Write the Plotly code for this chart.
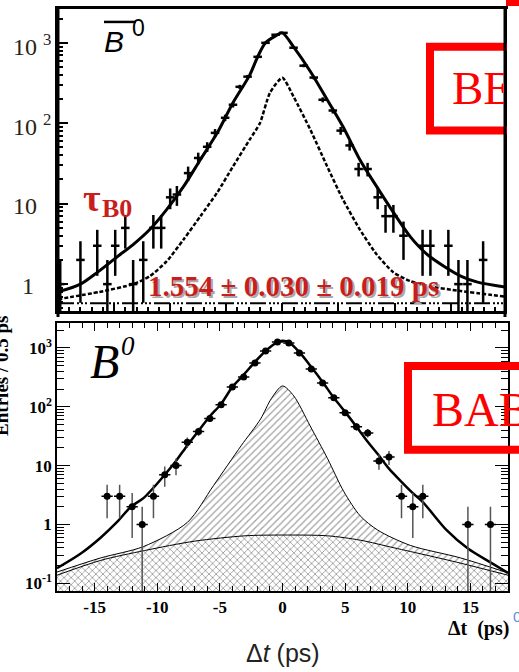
import numpy as np
import plotly.graph_objects as go

W, H = 519, 672

# ---------------- data: top panel (B0-bar, Belle) ----------------
top_t = [-19.8, -18.0, -16.5, -15.6, -14.9, -14.0, -13.3, -12.4, -11.5, -10.8,
         -10.0, -9.4, -8.4, -7.5, -6.7, -6.0, -5.1, -4.4, -3.8, -3.1,
         -2.2, -1.5, -0.6, 0.1, 1.0, 1.9, 2.8, 3.6, 4.5, 5.2,
         6.0, 6.8, 7.6, 8.5, 9.2, 9.9, 10.8, 12.5, 13.2, 14.8,
         15.7, 16.5, 17.9]
top_n = [1, 2, 3, 1, 3, 5, 1, 2, 5, 5,
         12, 13, 24, 37, 51, 76, 117, 170, 284, 380,
         670, 1000, 1260, 1330, 870, 520, 370, 196, 144, 81,
         53, 27, 27, 12, 7, 7, 4, 3, 3, 3,
         1, 1, 2]
top_fit_t = [-20, -18, -16.5, -14.7, -13.3, -11.8, -10.3, -8.8, -7.3, -5.8,
             -4.4, -2.9, -2.2, -1.5, -0.6, 0.0, 1.0, 2.5, 4.0, 5.4,
             6.9, 8.4, 9.9, 11.4, 12.9, 14.4, 15.9, 17.4, 19.85]
top_fit = [0.8, 1.0, 1.4, 2.2, 3.1, 4.8, 8.5, 16.4, 35.5, 76,
           180, 400, 670, 1000, 1220, 1330, 890, 440, 196, 91,
           35.5, 16.4, 7.8, 3.9, 2.35, 1.67, 1.26, 1.06, 0.92]
top_sig_t = [-20, -16.3, -13.3, -11.8, -10.3, -8.8, -7.3, -5.8, -4.4, -2.9,
             -2.0, -1.1, 0.0, 1.0, 2.5, 4.0, 5.4, 6.9, 8.4, 9.9,
             11.4, 12.9, 15.9, 19.85]
top_sig = [0.65, 0.8, 1.0, 1.26, 1.93, 3.6, 7.0, 13.8, 29, 63,
           100, 240, 368, 214, 83, 29, 11.3, 4.8, 2.35, 1.4,
           1.09, 0.95, 0.82, 0.7]
top_bkg_t = [-20, 19.85]
top_bkg = [0.58, 0.58]

# ---------------- data: bottom panel (B0, BaBar) ----------------
bot_t = [-14, -13, -12, -11.2, -10.3, -9.4, -8.5, -7.6, -6.7, -5.8,
         -4.9, -4.0, -3.1, -2.2, -1.35, -0.4, 0.5, 1.35, 2.3, 3.2,
         4.1, 5.0, 5.9, 6.8, 7.7, 8.5, 9.5, 10.4, 11.2, 14.8, 16.6]
bot_n = [3, 3, 2, 1, 3, 7, 10, 25, 38, 63,
         108, 218, 322, 555, 890, 1260, 1220, 820, 440, 255,
         142, 79, 46, 36, 12, 14, 3, 2, 3, 1, 1]
bot_fit_t = [-18, -16.1, -14.5, -13.2, -12.1, -11.1, -10.3, -9.4, -8.5, -7.6,
             -6.7, -5.8, -4.9, -4.0, -3.1, -2.2, -1.35, -0.4, 0.0, 0.5,
             1.35, 2.3, 3.2, 4.1, 5.0, 5.9, 6.8, 7.7, 8.5, 9.5,
             10.4, 11.2, 13.1, 14.8, 16.7, 18]
bot_fit = [0.18, 0.32, 0.6, 1.1, 2.0, 2.8, 4.2, 7.0, 12, 22,
           39, 69, 112, 218, 350, 580, 890, 1260, 1330, 1260,
           850, 475, 265, 142, 82, 46, 25.5, 14.8, 8.9, 5.3,
           3.4, 2.4, 0.8, 0.39, 0.22, 0.15]
bot_sig_t = [-18, -14.5, -11.1, -7.6, -5.5, -3.3, -1.75, -0.9, 0.0, 0.9,
             2.2, 3.6, 4.9, 6.2, 7.6, 10.2, 14.2, 18]
bot_sig = [0.155, 0.27, 0.42, 1.08, 4.6, 21.8, 62, 137, 226, 153,
           47.6, 13.1, 3.6, 1.4, 0.8, 0.44, 0.27, 0.15]
bot_bkg_t = [-18, -14.5, -11, -7, -3, 0, 3.6, 6.2, 8.9, 11.5, 14.2, 18]
bot_bkg = [0.137, 0.245, 0.36, 0.52, 0.64, 0.66, 0.64, 0.54, 0.40, 0.30, 0.22, 0.137]

x_tickvals = [-15, -10, -5, 0, 5, 10, 15]
x_ticktext = ["-15", "-10", "-5", "0", "5", "10", "15"]
y2_tickvals = [0.1, 1, 10, 100, 1000]
y2_ticktext = ["10<sup>-1</sup>", "1", "10", "10<sup>2</sup>", "10<sup>3</sup>"]
top_ylabels = [(1000, "10 <sup>3</sup>"), (100, "10 <sup>2</sup>"), (10, "10"), (1, "1")]


def px(x):
    return x / W


def py(y):
    return 1 - y / H


minor_log = [m * 10.0 ** e for e in range(-1, 4) for m in range(2, 10)]
minor_log = [v for v in minor_log if v < 3000]

fig = go.Figure()

# ---- top panel traces ----
fig.add_trace(go.Scatter(x=top_bkg_t, y=top_bkg, mode="lines", xaxis="x", yaxis="y",
                         line=dict(color="black", width=2, dash="16px,3px,2px,2px,2px,2px,2px,3px")))
fig.add_trace(go.Scatter(x=top_sig_t, y=top_sig, mode="lines", xaxis="x", yaxis="y",
                         line=dict(color="black", width=2.5, dash="4px,2px", shape="spline", smoothing=0.6)))
fig.add_trace(go.Scatter(x=top_fit_t, y=top_fit, mode="lines", xaxis="x", yaxis="y",
                         line=dict(color="black", width=3, shape="spline", smoothing=0.8)))
fig.add_trace(go.Scatter(x=top_t, y=top_n, mode="markers", xaxis="x", yaxis="y",
                         marker=dict(size=1, color="black"),
                         error_y=dict(type="data", array=list(np.sqrt(top_n)), color="black",
                                      thickness=2.5, width=0),
                         error_x=dict(type="constant", value=0.38, color="black",
                                      thickness=2.5, width=0)))

# ---- bottom panel traces ----
fig.add_trace(go.Scatter(x=bot_bkg_t, y=bot_bkg, mode="lines", xaxis="x2", yaxis="y2",
                         line=dict(color="black", width=1, shape="spline", smoothing=0.8),
                         fill="tozeroy", fillcolor="white",
                         fillpattern=dict(shape="x", fgcolor="#333", bgcolor="white",
                                          size=5, solidity=0.3)))
fig.add_trace(go.Scatter(x=bot_sig_t, y=bot_sig, mode="lines", xaxis="x2", yaxis="y2",
                         line=dict(color="black", width=1, shape="spline", smoothing=0.8),
                         fill="tonexty", fillcolor="white",
                         fillpattern=dict(shape="/", fgcolor="#444", bgcolor="white",
                                          size=5, solidity=0.25)))
fig.add_trace(go.Scatter(x=bot_fit_t, y=bot_fit, mode="lines", xaxis="x2", yaxis="y2",
                         line=dict(color="black", width=2.5, shape="spline", smoothing=0.8)))
fig.add_trace(go.Scatter(x=bot_t, y=bot_n, mode="markers", xaxis="x2", yaxis="y2",
                         marker=dict(size=7, color="black"),
                         error_y=dict(type="data", array=list(np.sqrt(bot_n)), color="#555",
                                      thickness=1.5, width=0),
                         error_x=dict(type="constant", value=0.45, color="black",
                                      thickness=1.5, width=0)))

serif = "Liberation Serif"
sans = "Liberation Sans"

fig.update_layout(
    width=W, height=H, margin=dict(l=0, r=0, t=0, b=0),
    paper_bgcolor="white", plot_bgcolor="white", showlegend=False,
    xaxis=dict(domain=[px(58), px(505)], range=[-20, 19.85], anchor="y",
               showline=True, linecolor="black", linewidth=2.5, mirror=True,
               ticks="inside", tickvals=[-20, -15, -10, -5, 0, 5, 10, 15], ticklen=8, tickwidth=2,
               tickcolor="black", showticklabels=False, showgrid=False, zeroline=False,
               minor=dict(ticks="inside", dtick=1, ticklen=4, tickwidth=1.5, tickcolor="black",
                          showgrid=False)),
    yaxis=dict(domain=[py(312), py(9)], type="log", range=[-0.335, 3.421], anchor="x",
               showline=True, linecolor="black", linewidth=3, mirror=True,
               ticks="inside", tickvals=[1, 10, 100, 1000], ticklen=10, tickwidth=2,
               tickcolor="black", showticklabels=False, showgrid=False, zeroline=False,
               minor=dict(ticks="inside", tickvals=minor_log, ticklen=5, tickwidth=1.5,
                          tickcolor="black", showgrid=False)),
    xaxis2=dict(domain=[px(57), px(508)], range=[-18, 18], anchor="y2",
                showline=True, linecolor="black", linewidth=1.5, mirror="ticks",
                ticks="inside", tickvals=x_tickvals, ticktext=x_ticktext, ticklen=8, tickwidth=1.2,
                tickcolor="black", showgrid=False, zeroline=False,
                tickfont=dict(family=serif, size=17, color="black", weight="bold"),
                minor=dict(ticks="inside", dtick=1, ticklen=5, tickwidth=1, tickcolor="black",
                           showgrid=False)),
    yaxis2=dict(domain=[py(593), py(324)], type="log", range=[-1.136, 3.424], anchor="x2",
                showline=True, linecolor="black", linewidth=1.5, mirror="ticks",
                ticks="inside", tickvals=y2_tickvals, ticktext=y2_ticktext, ticklen=13, tickwidth=1.2,
                tickcolor="black", showgrid=False, zeroline=False,
                tickfont=dict(family=serif, size=17, color="black", weight="bold"),
                minor=dict(ticks="inside", tickvals=minor_log, ticklen=7, tickwidth=1,
                           tickcolor="black", showgrid=False)),
)


def note(x, y, text, size, family, color, xanchor="center", yref="paper", **kw):
    d = dict(x=x, y=y, xref="paper", yref=yref, text=text, showarrow=False,
             xanchor=xanchor, yanchor="middle",
             font=dict(family=family, size=size, color=color))
    d.update(kw)
    return d


ann = []
# top panel y tick labels
for val, txt in top_ylabels:
    if txt == "1":
        ann.append(note(px(36), np.log10(val), txt, 24, serif, "#2a2418",
                        xanchor="right", yref="y", yshift=-2))
    else:
        ann.append(note(px(11), np.log10(val), txt, 24, serif, "#2a2418",
                        xanchor="left", yref="y", yshift=-2))
# B-bar 0
ann.append(note(px(114), py(42), "<i>B</i>", 30, sans, "black"))
ann.append(note(px(138), py(28), "0", 23, sans, "black"))
# tau label
ann.append(note(px(92), py(199), "<b>τ</b>", 38, serif, "#c81e1e"))
ann.append(note(px(117), py(209), "<b>B0</b>", 26, serif, "#c81e1e"))
# lifetime value with shadow
ann.append(note(px(295), py(289), "<b>1.554 ± 0.030 ± 0.019 ps</b>", 29, serif, "#aaaaaa"))
ann.append(note(px(293), py(287), "<b>1.554 ± 0.030 ± 0.019 ps</b>", 29, serif, "#c81e1e"))
# BELLE (clipped at the frame)
ann.append(note(px(451), py(88), "BELLE", 47, serif, "#ff0000", xanchor="left",
                align="left", width=52, borderpad=0))
# bottom B0
ann.append(note(px(104), py(363), "<i>B</i>", 48, serif, "black"))
ann.append(note(px(128), py(347), "<i>0</i>", 27, serif, "black"))
# BABAR
ann.append(note(px(430), py(411), "BABAR", 48, serif, "#ff0000", xanchor="left"))
# axis titles
ann.append(note(px(2), py(377), "<b>Entries / 0.5 ps</b>", 19, serif, "black", textangle=-90))
ann.append(note(px(478), py(630), "<b>Δt  (ps)</b>", 20, serif, "black"))
ann.append(note(px(511), py(618), "0", 15, sans, "#5b8fe0", xanchor="left"))
ann.append(note(px(283), py(655), "Δ<i>t</i> (ps)", 25, sans, "#222222"))
fig.update_layout(annotations=ann)

shapes = []
# overbar on B
shapes.append(dict(type="line", xref="paper", yref="paper", x0=px(104), x1=px(136),
                   y0=py(22), y1=py(22), line=dict(color="black", width=2.5)))
# BELLE box
shapes.append(dict(type="rect", xref="paper", yref="paper", x0=px(430), x1=px(570),
                   y0=py(47), y1=py(131), line=dict(color="#ff0000", width=8)))
# white mask right of the top frame
shapes.append(dict(type="rect", xref="paper", yref="paper", x0=px(507), x1=px(530),
                   y0=py(9), y1=py(318), fillcolor="white", line=dict(width=0)))
# frame extensions of the top panel
shapes.append(dict(type="line", xref="paper", yref="paper", x0=px(505), x1=px(505),
                   y0=py(9), y1=py(318), line=dict(color="black", width=3)))
shapes.append(dict(type="line", xref="paper", yref="paper", x0=px(58), x1=px(58),
                   y0=py(9), y1=py(318), line=dict(color="black", width=3)))
# red corner mark
shapes.append(dict(type="rect", xref="paper", yref="paper", x0=px(506), x1=px(530),
                   y0=py(6), y1=py(-5), fillcolor="#ff0000", line=dict(width=0)))
# BABAR box
shapes.append(dict(type="rect", xref="paper", yref="paper", x0=px(408), x1=px(570),
                   y0=py(367), y1=py(451), line=dict(color="#ff0000", width=8)))
fig.update_layout(shapes=shapes)

fig.write_html("out.html")
